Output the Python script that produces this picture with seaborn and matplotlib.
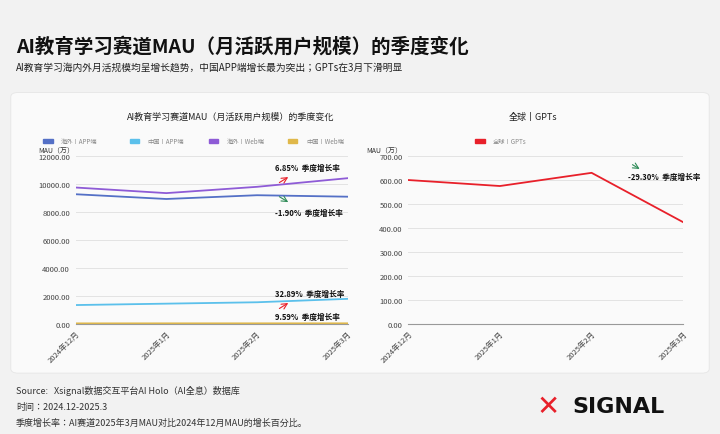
import matplotlib
matplotlib.use("Agg")
import matplotlib.pyplot as plt
from matplotlib import font_manager as fm
from matplotlib.patches import FancyBboxPatch
import seaborn as sns
import pandas as pd

cjk = sorted({f.name for f in fm.fontManager.ttflist if "CJK" in f.name})
pref = [n for n in ["Noto Sans CJK SC", "Noto Sans CJK JP"] if n in cjk] + cjk
plt.rcParams["font.family"] = "sans-serif"
plt.rcParams["font.sans-serif"] = pref + ["DejaVu Sans"]
plt.rcParams["axes.unicode_minus"] = False

months = ["2024年12月", "2025年1月", "2025年2月", "2025年3月"]
overseas_app = [9270, 8930, 9200, 9094]
china_app = [1350, 1450, 1550, 1794]
overseas_web = [9750, 9350, 9800, 10418]
china_web = [40, 42, 43, 44]
gpts = [600, 575, 630, 424]

series_names = ["海外丨APP端", "中国丨APP端", "海外丨Web端", "中国丨Web端"]
series_vals = [overseas_app, china_app, overseas_web, china_web]
colors = ["#5470c6", "#5bc0eb", "#8e5bd6", "#e0b84a"]
growth = ["-1.90%", "32.89%", "6.85%", "9.59%"]

df = pd.DataFrame([(m, n, v) for n, vals in zip(series_names, series_vals)
                   for m, v in zip(months, vals)], columns=["month", "series", "value"])
dfg = pd.DataFrame({"month": months, "series": "全球丨GPTs", "value": gpts})

bg = "#f2f2f2"
fig = plt.figure(figsize=(7.2, 4.35), dpi=100, facecolor=bg)
card = FancyBboxPatch((0.015, 0.14), 0.97, 0.645, boxstyle="round,pad=0,rounding_size=0.01",
                      transform=fig.transFigure, facecolor="#fafafa", edgecolor="#e6e6e6", lw=0.6, zorder=-10)
fig.patches.append(card)
fig.text(0.022, 0.88, "AI教育学习赛道MAU（月活跃用户规模）的季度变化", fontsize=14, fontweight="bold", color="#111")
fig.text(0.022, 0.838, "AI教育学习海内外月活规模均呈增长趋势，中国APP端增长最为突出；GPTs在3月下滑明显", fontsize=7, color="#222")

ax1 = fig.add_axes([0.105, 0.253, 0.378, 0.386])
ax2 = fig.add_axes([0.567, 0.253, 0.382, 0.386])
for ax in (ax1, ax2):
    ax.set_facecolor("none")

sns.lineplot(data=df, x="month", y="value", hue="series", palette=colors, ax=ax1, linewidth=1.3, legend=False, sort=False)
sns.lineplot(data=dfg, x="month", y="value", hue="series", palette=["#e8202a"], ax=ax2, linewidth=1.3, legend=False, sort=False)

ax1.set_ylim(0, 12000); ax1.set_yticks(range(0, 12001, 2000))
ax2.set_ylim(0, 700); ax2.set_yticks(range(0, 701, 100))
for ax in (ax1, ax2):
    ax.set_xlim(0, 3)
    ax.set_yticklabels([f"{t:.2f}" for t in ax.get_yticks()], fontsize=5.5, color="#444")
    ax.set_xticks(range(4)); ax.set_xticklabels(months, rotation=45, ha="right", rotation_mode="anchor", fontsize=5.5, color="#444")
    ax.grid(axis="y", color="#e3e3e3", linewidth=0.7)
    for s in ["top", "right", "left"]:
        ax.spines[s].set_visible(False)
    ax.spines["bottom"].set_color("#999")
    ax.tick_params(length=0, pad=4)
    ax.set_xlabel(""); ax.set_ylabel("")
ax1.text(-0.005, 1.025, "MAU（万）", transform=ax1.transAxes, fontsize=5, ha="right", color="#333")
ax2.text(-0.02, 1.025, "MAU（万）", transform=ax2.transAxes, fontsize=5, ha="right", color="#333")

fig.text(0.32, 0.725, "AI教育学习赛道MAU（月活跃用户规模）的季度变化", fontsize=6.5, ha="center", color="#222")
fig.text(0.74, 0.725, "全球丨GPTs", fontsize=6.5, ha="center", color="#222")
xs = [0.06, 0.18, 0.29, 0.40]
for x, n, c in zip(xs, series_names, colors):
    fig.patches.append(plt.Rectangle((x, 0.668), 0.013, 0.01, color=c, transform=fig.transFigure))
    fig.text(x + 0.025, 0.673, n, fontsize=4.5, va="center", color="#888")
fig.patches.append(plt.Rectangle((0.66, 0.668), 0.013, 0.01, color="#e8202a", transform=fig.transFigure))
fig.text(0.685, 0.673, "全球丨GPTs", fontsize=4.5, va="center", color="#888")

ann = {0: (2.2, 8000, False), 1: (2.2, 2200, True), 2: (2.2, 11200, True), 3: (2.2, 500, True)}
for i, (x, y, up) in ann.items():
    ax1.text(x, y, f"{growth[i]}  季度增长率", fontsize=5.5, fontweight="bold", color="#111", ha="left", va="center")
    mid = y - 900 if up else y + 900
    ax1.annotate("", xy=(2.37, mid + (300 if up else -300)), xytext=(2.22, mid - (300 if up else -300)),
                 arrowprops=dict(arrowstyle="->", color="#e8202a" if up else "#2e8b57", lw=0.8))
ax2.text(2.4, 615, "-29.30%  季度增长率", fontsize=5.5, fontweight="bold", color="#111", va="center")
ax2.annotate("", xy=(2.55, 640), xytext=(2.42, 670), arrowprops=dict(arrowstyle="->", color="#2e8b57", lw=0.8))

fig.text(0.022, 0.095, "Source:   Xsignal数据交互平台AI Holo（AI全息）数据库", fontsize=6.5, color="#333")
fig.text(0.022, 0.058, "时间：2024.12-2025.3", fontsize=6.5, color="#333")
fig.text(0.022, 0.02, "季度增长率：AI赛道2025年3月MAU对比2024年12月MAU的增长百分比。", fontsize=6.5, color="#333")
fig.text(0.745, 0.045, "✕", fontsize=20, color="#e8202a", fontweight="bold", fontfamily="DejaVu Sans")
fig.text(0.795, 0.05, "SIGNAL", fontsize=16, color="#111", fontweight="bold", fontfamily="DejaVu Sans")

fig.savefig("out.png", dpi=100, facecolor=bg)
